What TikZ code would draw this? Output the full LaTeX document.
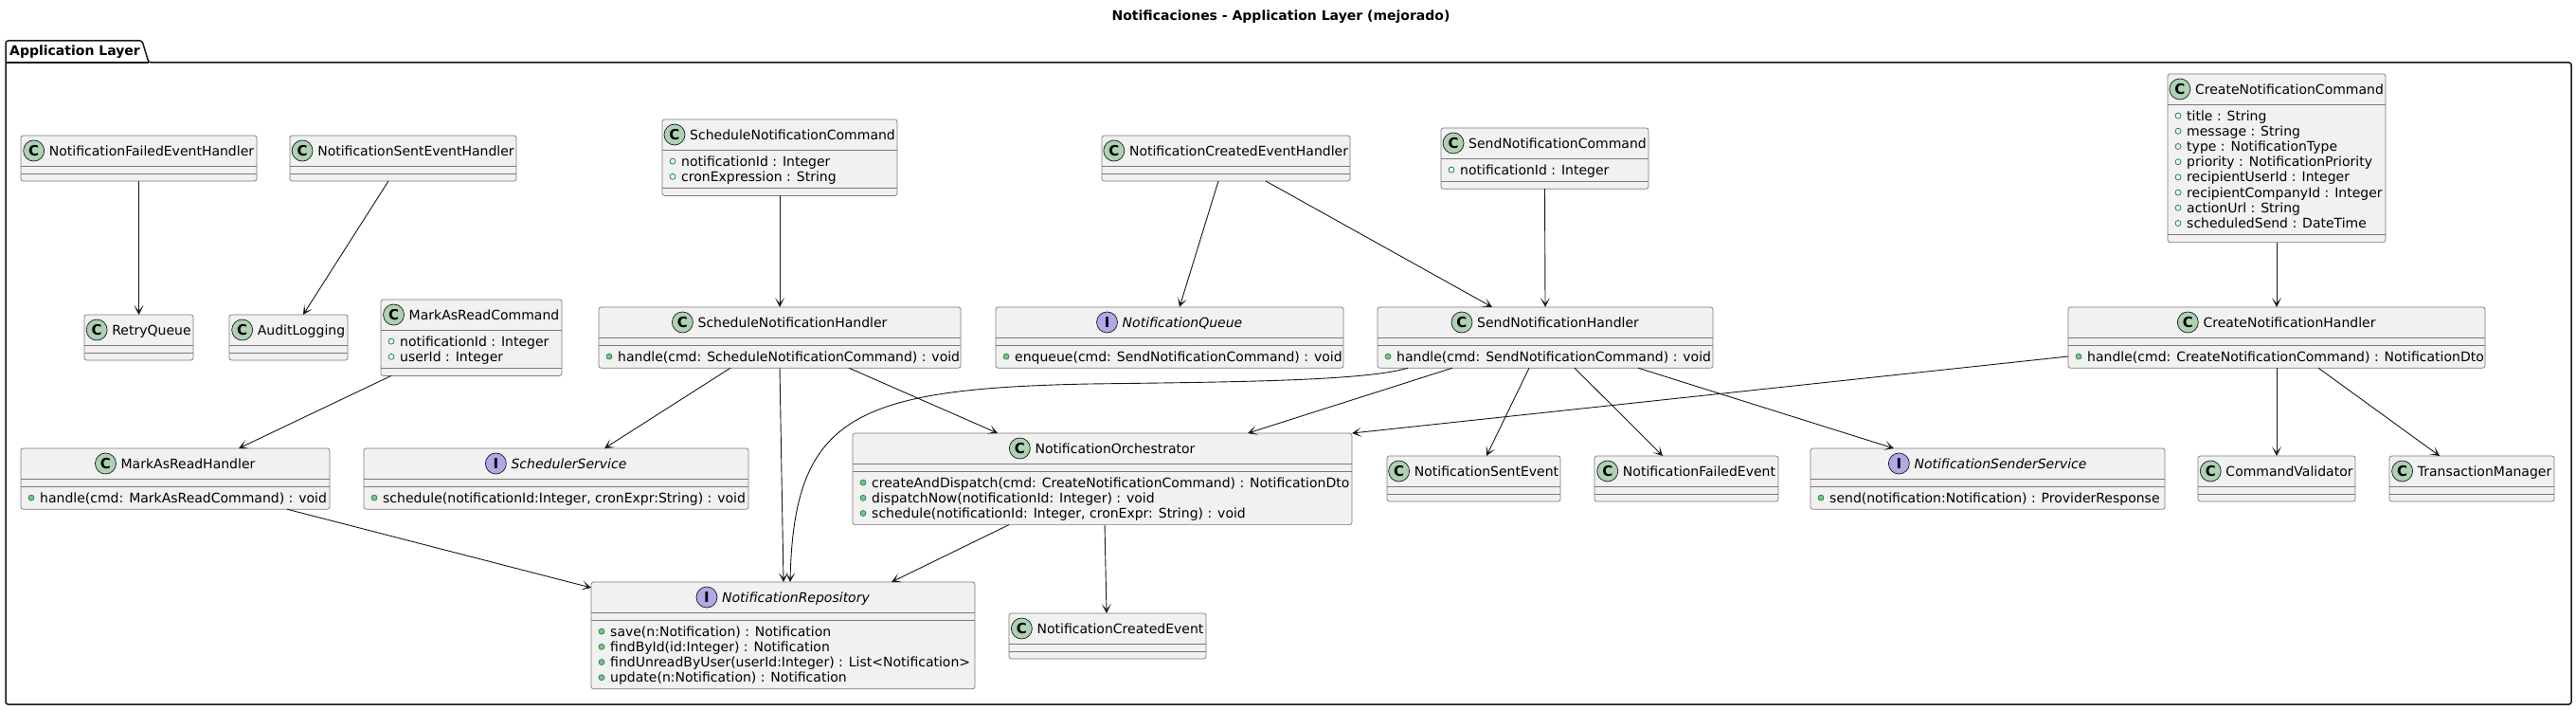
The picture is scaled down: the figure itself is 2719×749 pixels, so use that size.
\documentclass[tikz,border=0pt]{standalone}
\usepackage{fontspec}
\setmainfont{DejaVu Sans}
\usetikzlibrary{calc,arrows.meta}
\definecolor{boxfill}{HTML}{F1F1F1}
\definecolor{linec}{HTML}{181818}
\definecolor{boxline}{HTML}{7A7A7A}
\definecolor{circC}{HTML}{ADD1B2}
\definecolor{circI}{HTML}{B4A7E5}
\definecolor{visb}{HTML}{038048}
\definecolor{visf}{HTML}{84BE84}
\newcommand\fs{\fontsize{14}{16}\selectfont}
\tikzset{
  box/.style={draw=boxline, line width=0.7pt, fill=boxfill, rounded corners=2.5pt, inner sep=0pt, outer sep=0pt},
  sepline/.style={draw=boxline, line width=0.7pt},
  hdr/.style={inner sep=0pt, text height=11pt, text depth=0pt},
  tC/.style={font=\fs},
  tI/.style={font=\fs\itshape},
  icon/.style={circle, draw=linec, line width=0.7pt, minimum size=22pt, inner sep=0pt, font=\fontsize{15}{15}\selectfont\bfseries},
  kC/.style={fill=circC},
  kI/.style={fill=circI},
  mem/.style={inner sep=0pt, font=\fs},
  conn/.style={draw=linec, line width=0.9pt, -{Stealth[length=10pt,width=10pt,inset=6pt]}},
}
% id, x, y, width, nattr, nmeth, kind, title
\newcommand\classbox[8]{%
  \pgfmathsetmacro\hA{8+16.2*#5}%
  \pgfmathsetmacro\hM{8+16.2*#6}%
  \pgfmathsetmacro\hT{32+\hA+\hM}%
  \expandafter\xdef\csname hA@#1\endcsname{\hA}%
  \node[box, minimum width=#4pt, minimum height=\hT pt, anchor=north west] (#1) at (#2,#3) {};
  \draw[sepline] ($(#1.north west)+(0,32)$) -- ($(#1.north east)+(0,32)$);
  \draw[sepline] ($(#1.north west)+(0,32+\hA)$) -- ($(#1.north east)+(0,32+\hA)$);
  \node[hdr, t#7, anchor=center] (#1-t) at ($(#1.north)+(13.5,16)$) {#8};
  \node[icon, k#7] (#1-i) at ($(#1-t.west)+(-16,0)$) {#7};
}
\newcommand\attrline[3]{%
  \coordinate (#1-a#2) at ($(#1.north west)+(0,32+12.1+16.2*#2-16.2)$);
  \draw[visb, line width=0.7pt] ($(#1-a#2)+(11,0)$) circle (3pt);
  \node[mem, anchor=base west] (#1-at#2) at ($(#1-a#2)+(20,5)$) {#3};
}
\newcommand\methline[3]{%
  \edef\hAcur{\csname hA@#1\endcsname}%
  \coordinate (#1-m#2) at ($(#1.north west)+(0,32+\hAcur+12.1+16.2*#2-16.2)$);
  \draw[visb, fill=visf, line width=0.6pt] ($(#1-m#2)+(11,0)$) circle (3pt);
  \node[mem, anchor=base west] (#1-mt#2) at ($(#1-m#2)+(20,5)$) {#3};
}
\begin{document}
\begin{tikzpicture}[x=1pt, y=-1pt]
\path[use as bounding box, fill=white] (0,0) rectangle (2719,749);
\node[font=\fs\bfseries] (title) at (1352,18) {Notificaciones - Application Layer (mejorado)};
% package frame
\draw[linec, line width=1.5pt, rounded corners=2.5pt] (6,66) -- (6,43) -- (150,43) -- (157,66) -- (2714,66) -- (2714,743) -- (6,743) -- cycle;
\draw[linec, line width=1.5pt] (6,66) -- (157,66);
\node[font=\fs\bfseries, anchor=base west, inner sep=0pt] (pkg) at (10,59) {Application Layer};

% classes
\classbox{nfeh}{22}{143}{249}{0}{0}{C}{NotificationFailedEventHandler}
\classbox{nseh}{306}{143}{239}{0}{0}{C}{NotificationSentEventHandler}
\classbox{retry}{89}{332}{115}{0}{0}{C}{RetryQueue}
\classbox{audit}{242}{332}{125}{0}{0}{C}{AuditLogging}
\classbox{marc}{402}{316}{191}{2}{0}{C}{MarkAsReadCommand}
\attrline{marc}{1}{notificationId : Integer}
\attrline{marc}{2}{userId : Integer}
\classbox{marh}{22}{473}{326}{0}{1}{C}{MarkAsReadHandler}
\methline{marh}{1}{handle(cmd: MarkAsReadCommand) : void}
\classbox{sched}{384}{473}{406}{0}{1}{I}{SchedulerService}
\methline{sched}{1}{schedule(notificationId:Integer, cronExpr:String) : void}
\classbox{repo}{624}{614}{405}{0}{4}{I}{NotificationRepository}
\methline{repo}{1}{save(n:Notification) : Notification}
\methline{repo}{2}{findById(id:Integer) : Notification}
\methline{repo}{3}{findUnreadByUser(userId:Integer) : List<Notification>}
\methline{repo}{4}{update(n:Notification) : Notification}
\classbox{snc}{699}{126}{248}{2}{0}{C}{ScheduleNotificationCommand}
\attrline{snc}{1}{notificationId : Integer}
\attrline{snc}{2}{cronExpression : String}
\classbox{snh}{632}{324}{382}{0}{1}{C}{ScheduleNotificationHandler}
\methline{snh}{1}{handle(cmd: ScheduleNotificationCommand) : void}
\classbox{nceh}{1163}{143}{262}{0}{0}{C}{NotificationCreatedEventHandler}
\classbox{queue}{1051}{324}{367}{0}{1}{I}{NotificationQueue}
\methline{queue}{1}{enqueue(cmd: SendNotificationCommand) : void}
\classbox{orch}{900}{457}{527}{0}{3}{C}{NotificationOrchestrator}
\methline{orch}{1}{createAndDispatch(cmd: CreateNotificationCommand) : NotificationDto}
\methline{orch}{2}{dispatchNow(notificationId: Integer) : void}
\methline{orch}{3}{schedule(notificationId: Integer, cronExpr: String) : void}
\classbox{nce}{1065}{647}{208}{0}{0}{C}{NotificationCreatedEvent}
\classbox{sendcmd}{1521}{135}{219}{1}{0}{C}{SendNotificationCommand}
\attrline{sendcmd}{1}{notificationId : Integer}
\classbox{sendh}{1454}{324}{354}{0}{1}{C}{SendNotificationHandler}
\methline{sendh}{1}{handle(cmd: SendNotificationCommand) : void}
\classbox{nse}{1464}{481}{183}{0}{0}{C}{NotificationSentEvent}
\classbox{nfe}{1683}{481}{194}{0}{0}{C}{NotificationFailedEvent}
\classbox{nss}{1911}{473}{374}{0}{1}{I}{NotificationSenderService}
\methline{nss}{1}{send(notification:Notification) : ProviderResponse}
\classbox{cnc}{2288}{78}{230}{8}{0}{C}{CreateNotificationCommand}
\attrline{cnc}{1}{title : String}
\attrline{cnc}{2}{message : String}
\attrline{cnc}{3}{type : NotificationType}
\attrline{cnc}{4}{priority : NotificationPriority}
\attrline{cnc}{5}{recipientUserId : Integer}
\attrline{cnc}{6}{recipientCompanyId : Integer}
\attrline{cnc}{7}{actionUrl : String}
\attrline{cnc}{8}{scheduledSend : DateTime}
\classbox{cnh}{2183}{324}{440}{0}{1}{C}{CreateNotificationHandler}
\methline{cnh}{1}{handle(cmd: CreateNotificationCommand) : NotificationDto}
\classbox{cv}{2320}{481}{166}{0}{0}{C}{CommandValidator}
\classbox{tm}{2522}{481}{174}{0}{0}{C}{TransactionManager}

% connectors
\draw[conn] (nfeh.south) -- (retry.north);
\draw[conn] ($(nseh.south west)+(104,0)$) -- ($(audit.north west)+(78,0)$);
\draw[conn] ($(marc.south west)+(11,0)$) -- ($(marh.north west)+(230,0)$);
\draw[conn] ($(marh.south west)+(281,0)$) -- ($(repo.north west)+(0,6)$);
\draw[conn] (snc.south) -- (snh.north);
\draw[conn] ($(snh.south west)+(139,0)$) -- ($(sched.north west)+(254,0)$);
\draw[conn] (snh.south) -- ($(repo.north west)+(203,0)$);
\draw[conn] ($(snh.south west)+(264,0)$) -- ($(orch.north west)+(153,0)$);
\draw[conn] ($(nceh.south west)+(123,0)$) -- ($(queue.north west)+(194,0)$);
\draw[conn] ($(nceh.south west)+(173,0)$) -- ($(sendh.north west)+(121,0)$);
\draw[conn] (sendcmd.south) -- (sendh.north);
\coordinate (cmid) at (1150,405);
\draw[conn] ($(sendh.south west)+(32,0)$) .. controls (1440,402) and (1300,403) .. (cmid) .. controls (900,410) and (838,440) .. ($(repo.north west)+(210,0)$);
\draw[conn] ($(sendh.south west)+(79,0)$) -- ($(orch.north west)+(417,0)$);
\draw[conn] ($(sendh.south west)+(160,0)$) -- ($(nse.north west)+(105,0)$);
\draw[conn] ($(sendh.south west)+(208,0)$) -- ($(nfe.north west)+(72,0)$);
\draw[conn] ($(sendh.south west)+(275,0)$) -- ($(nss.north west)+(88,0)$);
\draw[conn] (cnc.south) -- (cnh.north);
\draw[conn] ($(cnh.north west)+(0,52)$) -- (orch.north east);
\draw[conn] (cnh.south) -- (cv.north);
\draw[conn] ($(cnh.south west)+(264,0)$) -- ($(tm.north west)+(53,0)$);
\draw[conn] ($(orch.south west)+(165,0)$) -- ($(repo.north west)+(317,0)$);
\draw[conn] ($(orch.south west)+(266,0)$) -- ($(nce.north west)+(103,0)$);
\end{tikzpicture}
\end{document}
